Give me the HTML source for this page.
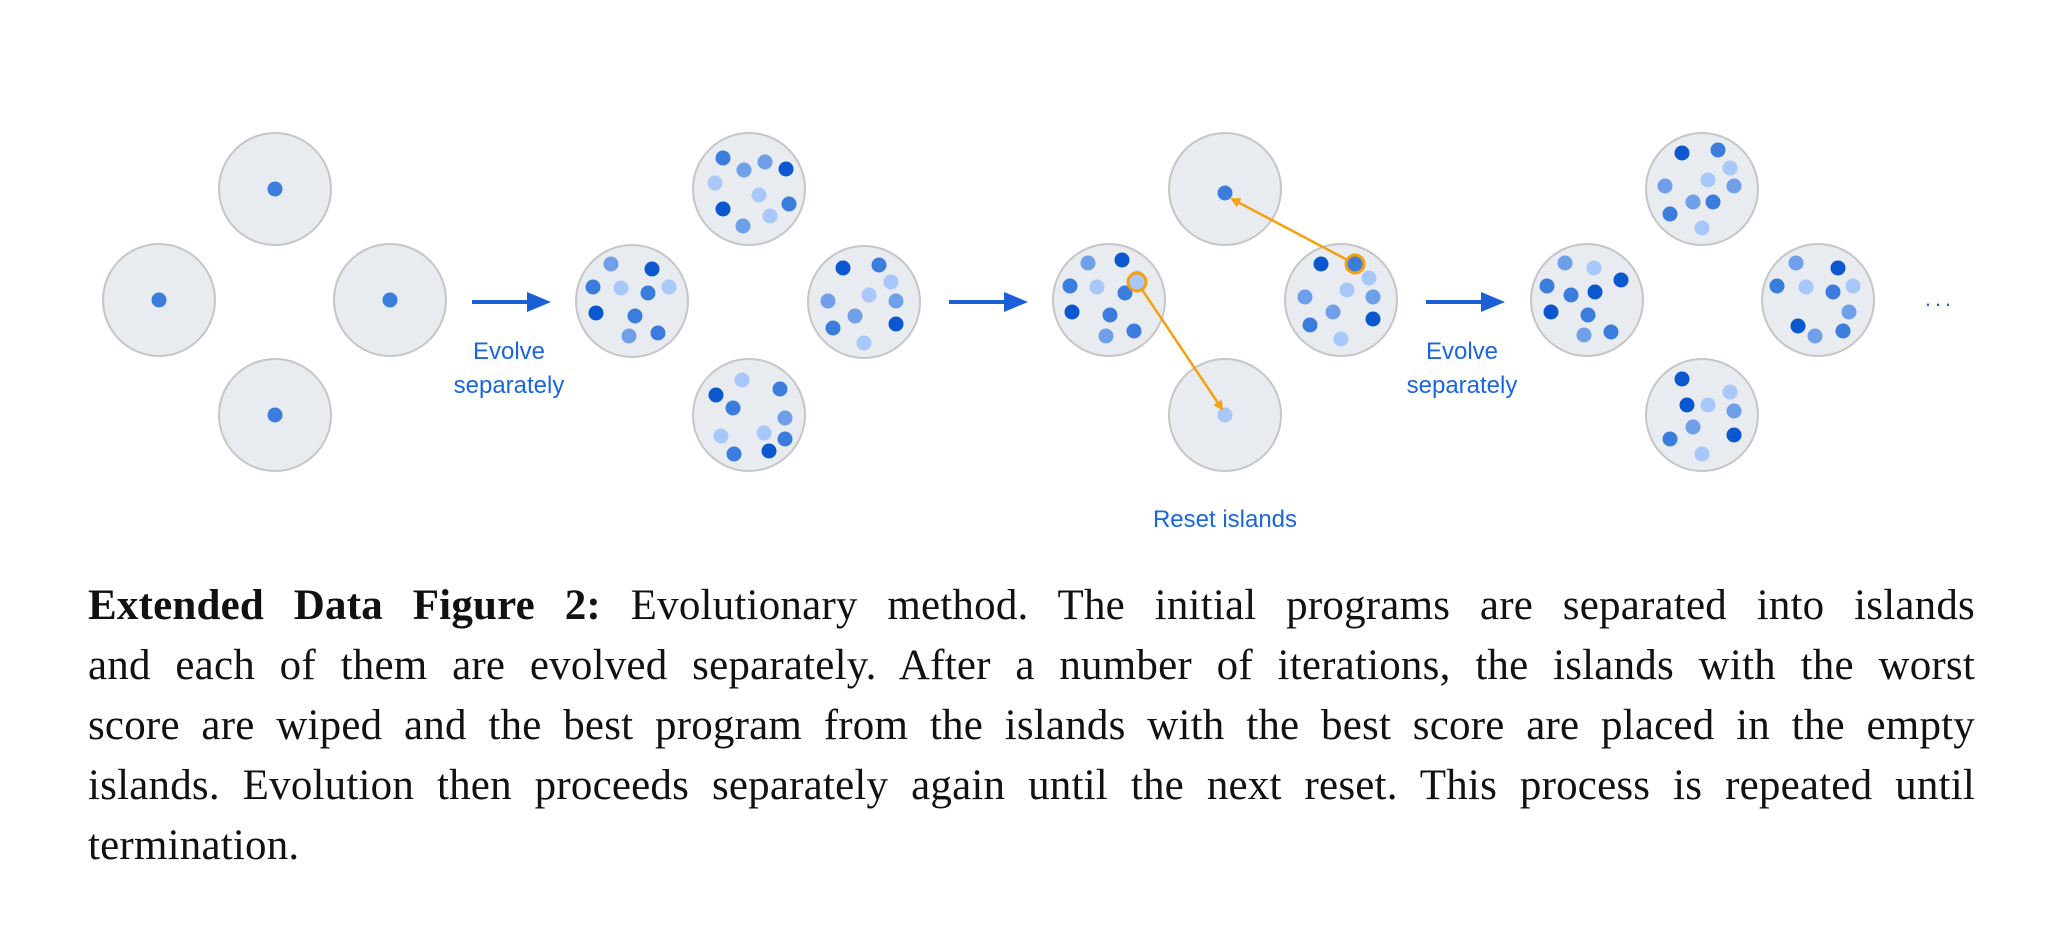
<!DOCTYPE html>
<html><head><meta charset="utf-8"><style>
html,body{margin:0;padding:0;background:#fff;}
body{width:2057px;height:939px;position:relative;overflow:hidden;}
svg{position:absolute;left:0;top:0;}
.cap{position:absolute;left:88px;top:543px;width:1887px;height:360px;font-family:"Liberation Serif",serif;font-size:43px;letter-spacing:0.2px;color:#111;}
.cap div{position:absolute;left:0;width:1887px;text-align:justify;text-align-last:justify;white-space:nowrap;height:60px;line-height:60px;}
.cap div.last{text-align-last:left;}
</style></head><body>
<svg width="2057" height="939" viewBox="0 0 2057 939" id="s">
<defs>
<marker id="oh" markerWidth="10" markerHeight="10" refX="8" refY="5" orient="auto" markerUnits="userSpaceOnUse">
<path d="M0,0 L10,5 L0,10 z" fill="#f5a00f"/></marker>
</defs>
<g id="g"></g>
<g fill="#1a5fd6">
<rect x="472" y="300" width="58" height="4"/><path d="M527,292 L551,302 L527,312 z"/>
<rect x="949" y="300" width="58" height="4"/><path d="M1004,292 L1028,302 L1004,312 z"/>
<rect x="1426" y="300" width="58" height="4"/><path d="M1481,292 L1505,302 L1481,312 z"/>
</g>
<g font-family="Liberation Sans, sans-serif" font-size="24" fill="#1a66e0" text-anchor="middle">
<text x="509" y="359">Evolve</text><text x="509" y="393">separately</text>
<text x="1462" y="359">Evolve</text><text x="1462" y="393">separately</text>
<text x="1225" y="527">Reset islands</text>
<text x="1940" y="306" font-size="22" letter-spacing="4">...</text>
</g>
</svg>
<div class="cap">
<div style="top:33px"><b>Extended Data Figure 2:</b> Evolutionary method. The initial programs are separated into islands</div>
<div style="top:93px">and each of them are evolved separately. After a number of iterations, the islands with the worst</div>
<div style="top:153px">score are wiped and the best program from the islands with the best score are placed in the empty</div>
<div style="top:213px">islands. Evolution then proceeds separately again until the next reset. This process is repeated until</div>
<div class="last" style="top:273px">termination.</div>
</div>
<script>
var D="#0b57d0",M="#3b7ddd",L="#6e9fe8",P="#a8c7fa";
var circles=[
[275,189,[[0,0,M]]],[159,300,[[0,0,M]]],[390,300,[[0,0,M]]],[275,415,[[0,0,M]]],
[632,301,[[-21,-37,L],[20,-32,D],[-39,-14,M],[-11,-13,P],[16,-8,M],[37,-14,P],[-36,12,D],[3,15,M],[-3,35,L],[26,32,M]]],
[749,189,[[-26,-31,M],[-5,-19,L],[16,-27,L],[37,-20,D],[-34,-6,P],[10,6,P],[40,15,M],[-26,20,D],[21,27,P],[-6,37,L]]],
[864,302,[[-21,-34,D],[15,-37,M],[27,-20,P],[-36,-1,L],[5,-7,P],[32,-1,L],[-9,14,L],[-31,26,M],[32,22,D],[0,41,P]]],
[749,415,[[-7,-35,P],[-33,-20,D],[31,-26,M],[-16,-7,M],[36,3,L],[-28,21,P],[15,18,P],[36,24,M],[-15,39,M],[20,36,D]]],
[1109,300,[[-21,-37,L],[13,-40,D],[28,-22,P],[-39,-14,M],[-12,-13,P],[16,-7,M],[-37,12,D],[1,15,M],[-3,36,L],[25,31,M]]],
[1225,189,[[0,4,M]]],
[1341,300,[[-20,-36,D],[14,-39,M],[28,-22,P],[-36,-3,L],[6,-10,P],[32,-3,L],[-8,12,L],[-31,25,M],[32,19,D],[0,39,P]]],
[1225,415,[[0,0,P]]],
[1587,300,[[-22,-37,L],[7,-32,P],[34,-20,D],[-40,-14,M],[-16,-5,M],[8,-8,D],[-36,12,D],[1,15,M],[-3,35,L],[24,32,M]]],
[1702,189,[[-20,-36,D],[16,-39,M],[28,-21,P],[-37,-3,L],[6,-9,P],[32,-3,L],[-9,13,L],[11,13,M],[-32,25,M],[0,39,P]]],
[1818,300,[[-22,-37,L],[20,-32,D],[-41,-14,M],[-12,-13,P],[15,-8,M],[35,-14,P],[31,12,L],[-20,26,D],[-3,36,L],[25,31,M]]],
[1702,415,[[-20,-36,D],[28,-23,P],[-15,-10,D],[6,-10,P],[32,-4,L],[-9,12,L],[32,20,D],[-32,24,M],[0,39,P]]]
];
var h="";
circles.forEach(function(c){
h+='<circle cx="'+c[0]+'" cy="'+c[1]+'" r="56" fill="#e8ebf0" stroke="#c6c6c8" stroke-width="2"/>';
c[2].forEach(function(d){h+='<circle cx="'+(c[0]+d[0])+'" cy="'+(c[1]+d[1])+'" r="7.5" fill="'+d[2]+'"/>';});
});
h+='<line x1="1355" y1="264" x2="1232" y2="199" stroke="#f5a00f" stroke-width="2.5" marker-end="url(#oh)"/>';
h+='<line x1="1137" y1="282" x2="1222" y2="409" stroke="#f5a00f" stroke-width="2.5" marker-end="url(#oh)"/>';
h+='<circle cx="1355" cy="264" r="9" fill="'+M+'" stroke="#f5a00f" stroke-width="3"/>';
h+='<circle cx="1137" cy="282" r="9" fill="'+P+'" stroke="#f5a00f" stroke-width="3"/>';
document.getElementById("g").innerHTML=h;
</script>
</body></html>
